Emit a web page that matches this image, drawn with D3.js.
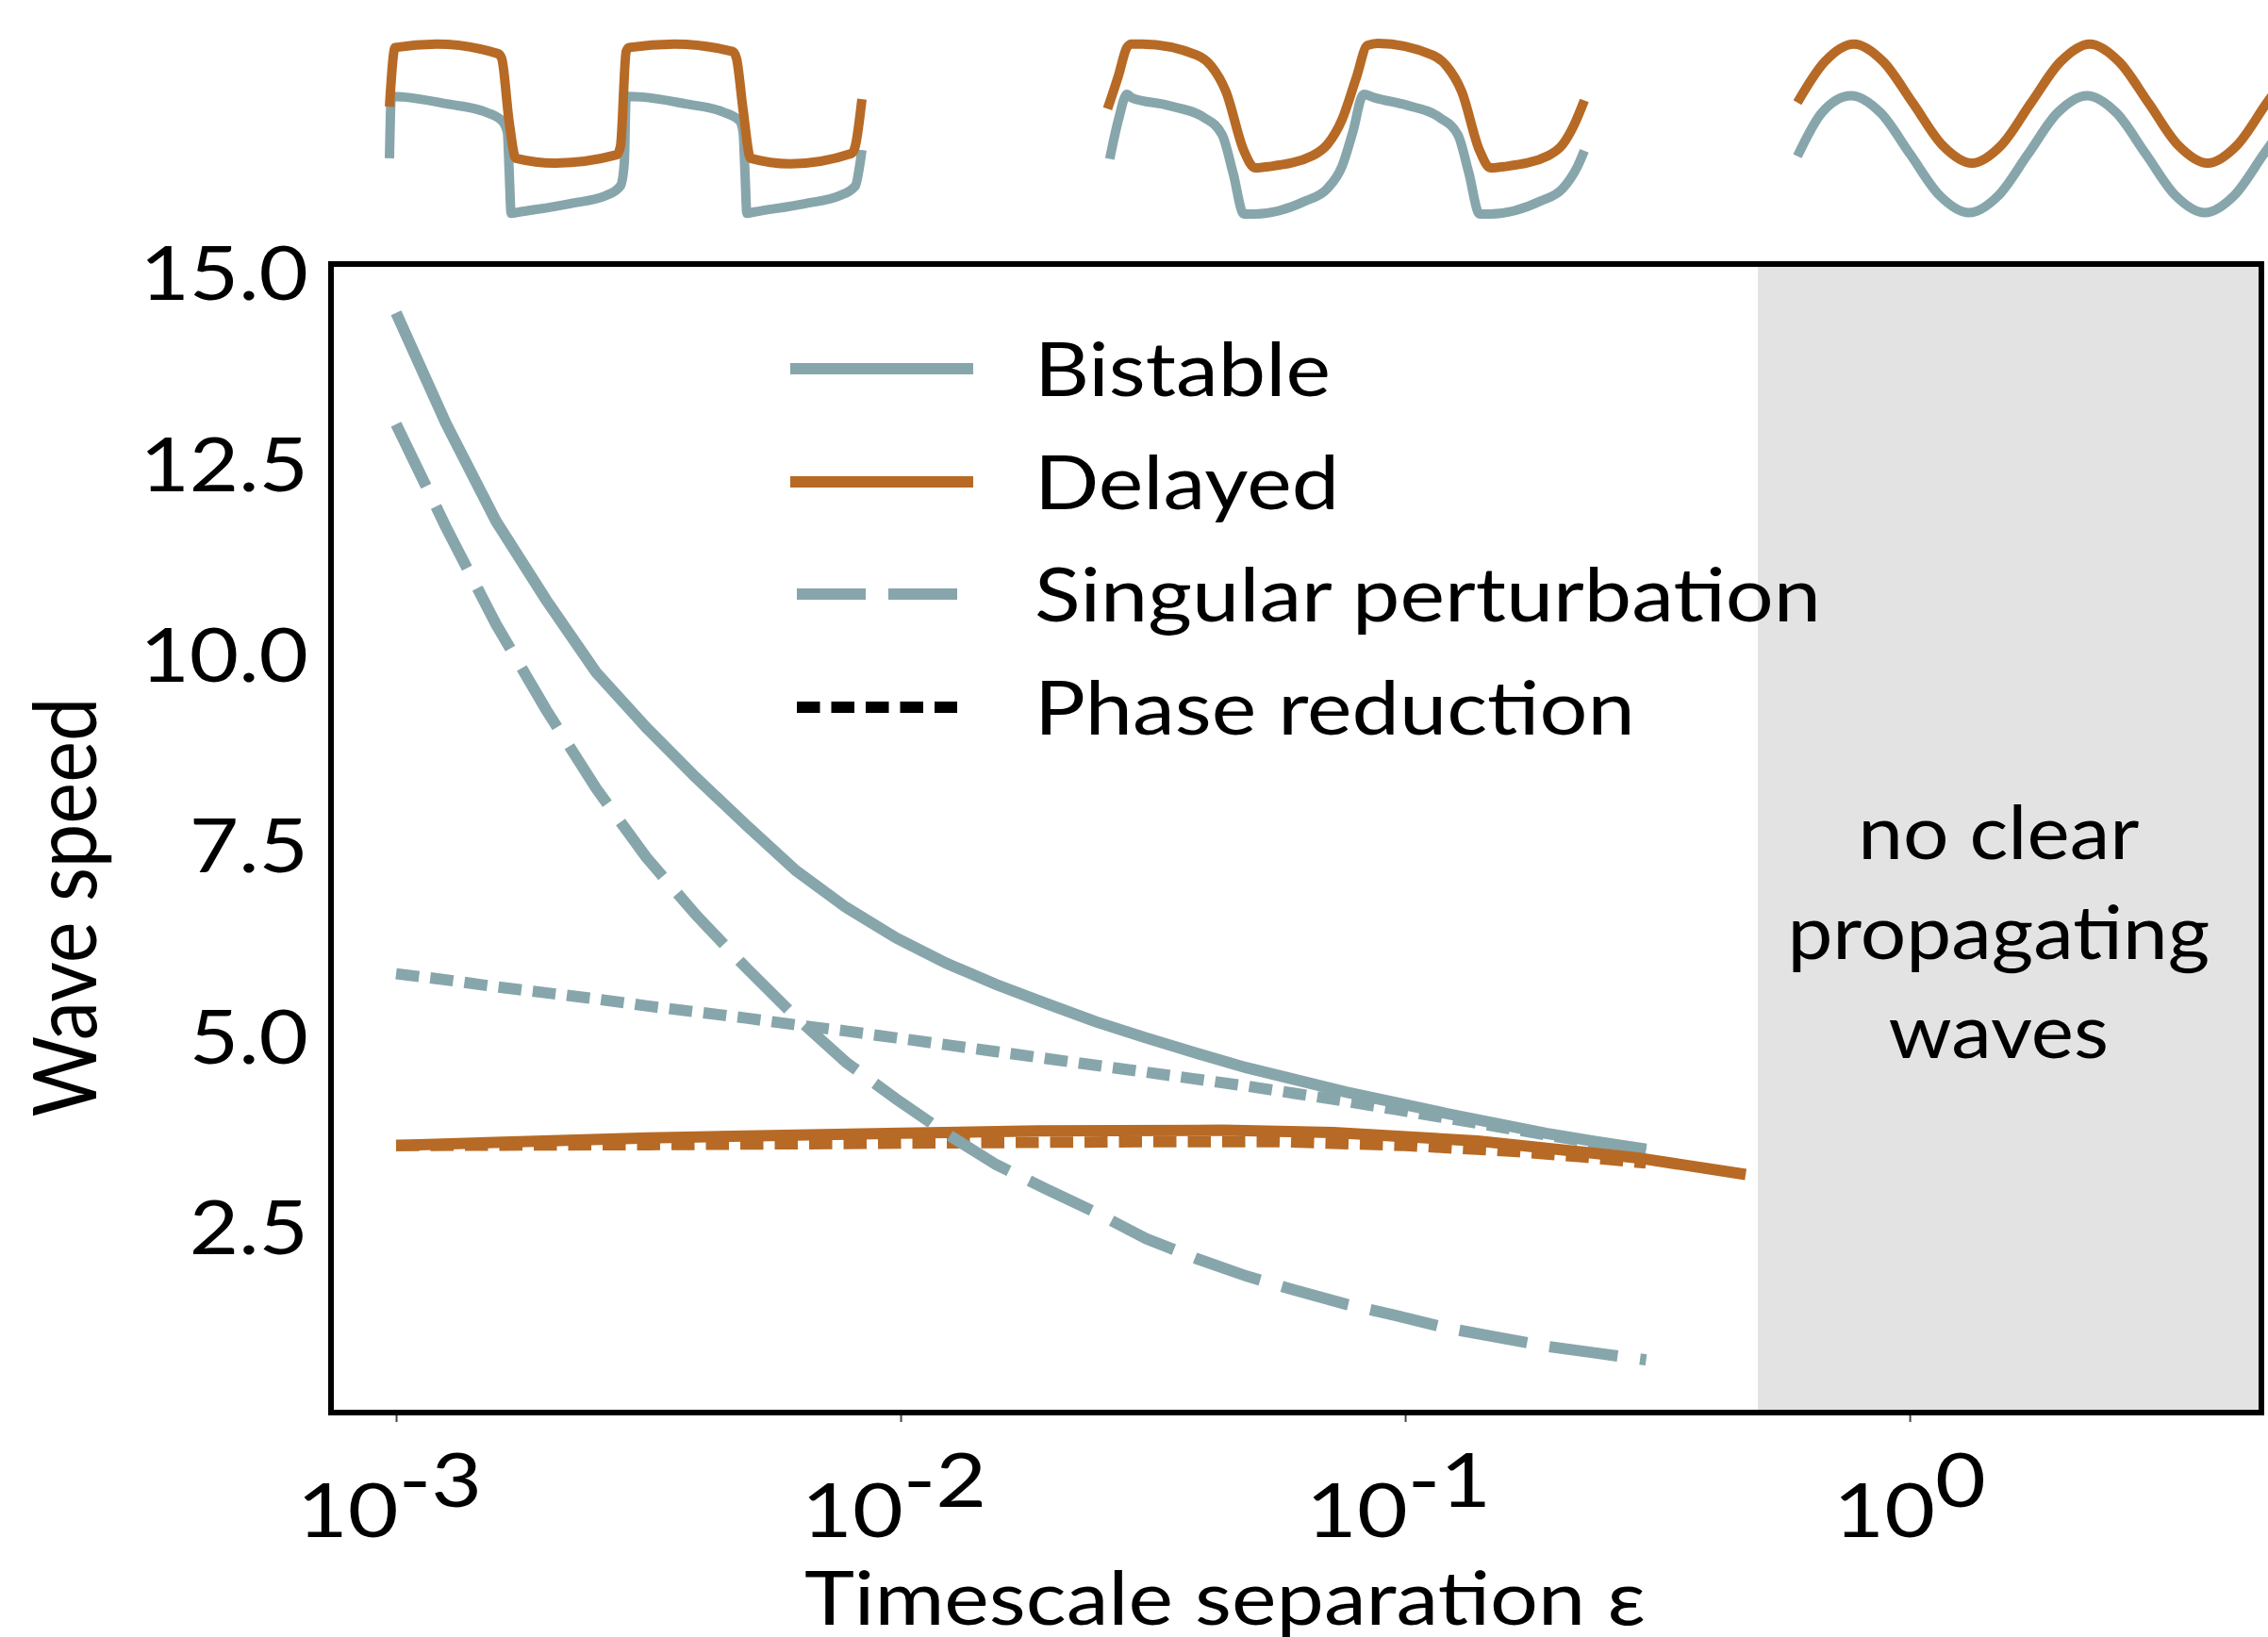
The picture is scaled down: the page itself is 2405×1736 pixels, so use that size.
<!DOCTYPE html>
<html><head><meta charset="utf-8">
<script src="https://cdn.jsdelivr.net/npm/d3@7"></script>
<style>body{margin:0;background:#fff}svg{display:block}text{font-family:Lato,"DejaVu Sans",sans-serif;fill:#000}</style>
</head><body>
<svg id="c" width="2405" height="1736"></svg>
<script>
// ---------------- data ----------------
const epsilon = [0.001,0.001256,0.001578,0.001983,0.002491,0.003129,0.003931,0.004939,0.006205,0.007795,0.009793,0.01230,0.01546,0.01942,0.02440,0.03065,0.03851,0.04838,0.06078,0.07636,0.09593,0.1205,0.1514,0.1902,0.2390,0.3003];
const bistable = [14.51,13.06,11.78,10.75,9.80,9.08,8.42,7.80,7.20,6.72,6.32,5.99,5.71,5.46,5.22,5.01,4.81,4.62,4.46,4.30,4.16,4.02,3.89,3.76,3.65,3.55];
const singular = [13.05,11.70,10.43,9.31,8.28,7.38,6.62,5.93,5.28,4.69,4.21,3.76,3.35,3.03,2.72,2.38,2.12,1.89,1.70,1.52,1.37,1.21,1.09,0.97,0.88,0.79];
const phaseBistable = [5.85,5.77,5.68,5.60,5.52,5.43,5.35,5.27,5.18,5.10,5.01,4.92,4.83,4.74,4.65,4.56,4.47,4.38,4.28,4.18,4.07,3.96,3.85,3.74,3.63,3.51];
const delayedEps = [0.001,0.00316,0.01,0.0187,0.0435,0.0721,0.139,0.287,0.473];
const delayed = [3.60,3.70,3.76,3.79,3.80,3.77,3.66,3.44,3.22];
const phaseDelayedEps = [0.001,0.00316,0.01,0.0316,0.0562,0.1,0.1675,0.224,0.3];
const phaseDelayed = [3.60,3.61,3.63,3.65,3.65,3.60,3.52,3.45,3.37];

const yTicks = [2.5,5,7.5,10,12.5,15];
const yTickLabels = ["2.5","5.0","7.5","10.0","12.5","15.0"];
const xTicks = [1e-3,1e-2,1e-1,1];
const xTickExponents = ["-3","-2","-1","0"];
const legendLabels = ["Bistable","Delayed","Singular perturbation","Phase reduction"];
const noWaveStart = 0.5;
const noWaveLabel = ["no clear","propagating","waves"];
const xLabel = "Timescale separation \u03b5";
const yLabel = "Wave speed";

// top insets: time / voltage traces (arbitrary units)
const sqTimeDelayed = [0.04,0.28,2.04,4.64,4.80,5.12,5.40,7.08,9.68,9.84,10.08,10.20,12.12,14.60,14.76,15.04,15.36,17.04,19.64,19.80,20.08];
const sqDelayed     = [0.30,1.16,1.21,1.07,1.00,0.07,-0.45,-0.52,-0.40,-0.27,1.10,1.16,1.21,1.10,1.00,0.25,-0.45,-0.53,-0.38,-0.27,0.41];
const sqTimeBistable = [0.04,0.12,0.64,2.48,4.04,4.80,5.04,5.12,5.20,5.56,7.68,9.24,9.84,10.00,10.08,10.76,12.60,14.12,14.88,15.04,15.12,15.20,15.52,17.64,19.16,19.80,20.00,20.08];
const sqBistable     = [-0.45,0.45,0.44,0.34,0.23,0.10,-0.07,-0.66,-1.25,-1.23,-1.11,-0.99,-0.85,-0.52,0.45,0.44,0.34,0.23,0.10,-0.07,-0.66,-1.25,-1.23,-1.11,-0.99,-0.85,-0.52,-0.33];
const midTimeDelayed = [0.02,0.48,0.84,1.04,1.50,3.80,4.42,5.04,5.80,6.27,6.88,8.72,9.34,9.96,10.56,11.04,11.48,13.80,14.40,15.04,15.80,16.26,16.88,18.72,19.32,19.80,20.24];
const midDelayed     = [0.27,0.75,1.16,1.21,1.21,1.05,0.89,0.52,-0.34,-0.59,-0.57,-0.41,-0.25,0.11,0.71,1.19,1.22,1.05,0.89,0.52,-0.34,-0.59,-0.57,-0.41,-0.25,0.03,0.39];
const midTimeBistable = [0.11,0.48,0.84,1.04,2.56,4.12,4.88,5.34,5.80,6.27,8.42,9.34,9.96,10.42,10.88,11.34,12.72,14.11,14.88,15.34,15.80,16.26,18.40,19.32,19.95,20.24];
const midBistable     = [-0.46,0.11,0.48,0.43,0.32,0.14,-0.11,-0.66,-1.26,-1.26,-1.07,-0.89,-0.57,-0.07,0.48,0.43,0.32,0.14,-0.11,-0.66,-1.26,-1.26,-1.07,-0.89,-0.57,-0.34];
const sinTimeDelayed = [0,1.15,2.4,3.65,4.9,6.15,7.4,8.65,9.9,11.15,12.4,13.65,14.9,16.15,17.4,18.65,19.9,21.15];
const sinDelayed     = [0.36,0.95,1.21,0.95,0.35,-0.26,-0.52,-0.26,0.35,0.95,1.21,0.95,0.35,-0.26,-0.52,-0.26,0.35,0.95];
const sinTimeBistable = [0,1.03,2.28,3.53,4.78,6.03,7.28,8.53,9.78,11.03,12.28,13.53,14.78,16.03,17.28,18.53,19.78,21.03];
const sinBistable     = [-0.42,0.21,0.46,0.21,-0.39,-0.99,-1.24,-0.99,-0.39,0.21,0.46,0.21,-0.39,-0.99,-1.24,-0.99,-0.39,0.21];

// ---------------- layout ----------------
const GRAY = "#87a6ab", ORANGE = "#b76a25", SHADE = "#e3e3e3";
const L = 351, R = 2398, T = 280, B = 1498;
const FS = 80;
const svg = d3.select("#c");

const x = d3.scaleLog().domain([Math.pow(10,-3.129), Math.pow(10,0.697)]).range([L, R]);
const y = d3.scaleLinear().domain([0.1, 15.15]).range([B, T]);

function stext(px, py, s, anchor, sx, fs) {
  const g = svg.append("g").attr("transform", `translate(${px},${py}) scale(${sx},1)`);
  return g.append("text").attr("text-anchor", anchor).attr("font-size", fs).text(s);
}

// shaded region
svg.append("rect").attr("x", x(noWaveStart)).attr("y", T).attr("width", R - x(noWaveStart)).attr("height", B - T).attr("fill", SHADE);

const line = (xs, ys) => d3.line().x((d,i)=>x(xs[i])).y((d,i)=>y(d))(ys);

// curves
svg.append("path").attr("d", line(epsilon, phaseBistable)).attr("fill","none").attr("stroke",GRAY).attr("stroke-width",12).attr("stroke-dasharray","24.5,12");
svg.append("path").attr("d", line(phaseDelayedEps, phaseDelayed)).attr("fill","none").attr("stroke",ORANGE).attr("stroke-width",12).attr("stroke-dasharray","24.5,12");
svg.append("path").attr("d", line(epsilon, bistable)).attr("fill","none").attr("stroke",GRAY).attr("stroke-width",12);
svg.append("path").attr("d", line(delayedEps, delayed)).attr("fill","none").attr("stroke",ORANGE).attr("stroke-width",12);
svg.append("path").attr("d", line(epsilon, singular)).attr("fill","none").attr("stroke",GRAY).attr("stroke-width",12).attr("stroke-dasharray","73,24");

// frame
svg.append("rect").attr("x",L).attr("y",T).attr("width",R-L).attr("height",B-T).attr("fill","none").attr("stroke","#000").attr("stroke-width",6);

// y axis
const gy = svg.append("g").attr("transform",`translate(${L},0)`)
  .call(d3.axisLeft(y).tickValues(yTicks).tickFormat((d,i)=>yTickLabels[i]).tickSize(0).tickPadding(24));
gy.select(".domain").remove();
gy.selectAll("text").attr("font-size",FS).attr("font-family","Lato").attr("x",0).attr("transform","translate(-24,0) scale(1.13,1)");

// x axis ticks
const gx = svg.append("g").attr("transform",`translate(0,${B+3})`)
  .call(d3.axisBottom(x).tickValues(xTicks).tickFormat("").tickSize(7));
gx.select(".domain").remove();
gx.selectAll("line").attr("stroke","#444").attr("stroke-width",2);
xTicks.forEach((v,i)=>{
  const t = stext(x(v) - (xTickExponents[i].startsWith("-")?7:0), 1630, "", "middle", 1.16, FS);
  t.append("tspan").text("10");
  t.append("tspan").attr("dy",-32).text(xTickExponents[i]);
});

// axis labels
stext(1299, 1723, xLabel, "middle", 1.124, FS);
svg.append("text").attr("transform","translate(102,962) scale(1.12,1) rotate(-90)").attr("text-anchor","middle").attr("font-size",83).text(yLabel);

// shaded label
noWaveLabel.forEach((s,i)=>{
  stext(x(1.5), 911 + i*105.5, s, "middle", 1.07, FS);
});

// legend
const legY = [391,511,630,750];
const legStyle = [
  {c:GRAY, d:null, x0:838, x1:1032},
  {c:ORANGE, d:null, x0:838, x1:1032},
  {c:GRAY, d:"73,24", x0:845, x1:1015},
  {c:"#000", d:"24.5,12", x0:845, x1:1015}
];
legendLabels.forEach((s,i)=>{
  const st = legStyle[i];
  svg.append("line").attr("x1",st.x0).attr("x2",st.x1).attr("y1",legY[i]).attr("y2",legY[i])
    .attr("stroke",st.c).attr("stroke-width",12).attr("stroke-dasharray",st.d);
  stext(1097, legY[i]+29, s, "start", 1.125, FS);
});

// insets
const insets = [
  {x0:412, traces:[[sqTimeBistable,sqBistable,GRAY],[sqTimeDelayed,sqDelayed,ORANGE]]},
  {x0:1174, traces:[[midTimeBistable,midBistable,GRAY],[midTimeDelayed,midDelayed,ORANGE]]},
  {x0:1906, traces:[[sinTimeBistable,sinBistable,GRAY],[sinTimeDelayed,sinDelayed,ORANGE]]}
];
insets.forEach(ins=>{
  const ix = d3.scaleLinear().domain([0,20]).range([ins.x0, ins.x0+500]);
  const iy = d3.scaleLinear().domain([-1.3,1.3]).range([229.9,40.1]);
  ins.traces.forEach(([ts,vs,c])=>{
    const p = d3.line().x((d,i)=>ix(ts[i])).y(d=>iy(d)).curve(d3.curveMonotoneX)(vs);
    svg.append("path").attr("d",p).attr("fill","none").attr("stroke",c).attr("stroke-width",10);
  });
});
</script>
</body></html>
